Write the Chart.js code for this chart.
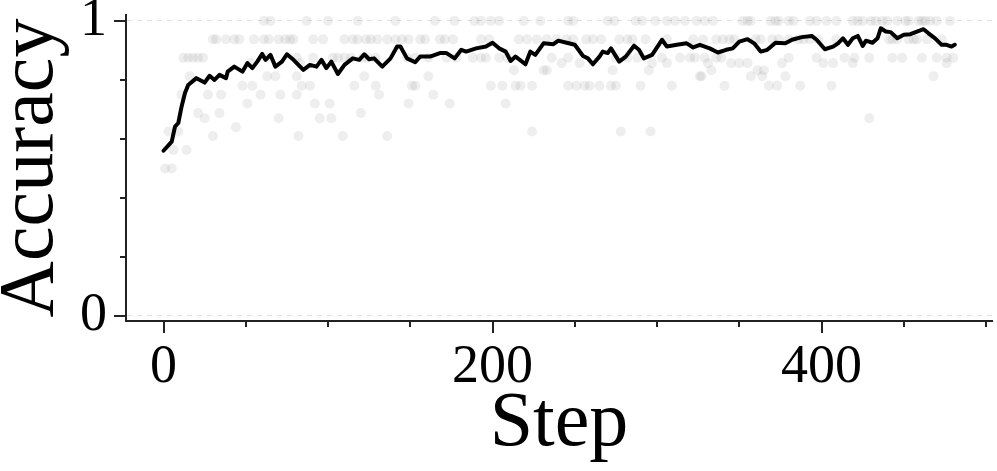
<!DOCTYPE html>
<html>
<head>
<meta charset="utf-8">
<script src="https://cdn.jsdelivr.net/npm/chart.js@4.4.1/dist/chart.umd.min.js"></script>
<style>
  html, body { margin: 0; padding: 0; background: #ffffff; }
  #wrap { width: 997px; height: 471px; }
</style>
</head>
<body>
<div id="wrap"><canvas id="accuracy-chart" width="997" height="471"></canvas></div>
<script>
// smoothed accuracy curve
const lineSteps = [0, 5, 7, 9, 11, 13, 15, 20, 25, 28, 31, 34, 38, 39, 43, 48, 51, 54, 57, 60,
  62, 65, 68, 72, 75, 79, 85, 89, 93, 96, 99, 102, 106, 110, 115, 119, 122, 125, 128, 133,
  138, 142, 144, 148, 153, 156, 162, 168, 172, 177, 181, 184, 190, 196, 200, 204, 208, 211, 214, 220,
  223, 226, 231, 237, 240, 245, 250, 255, 258, 261, 265, 267, 270, 272, 277, 281, 286, 289, 292, 297,
  303, 306, 312, 318, 322, 326, 332, 337, 342, 346, 350, 355, 359, 363, 367, 372, 378, 382, 388, 394,
  397, 402, 407, 410, 413, 416, 419, 422, 425, 427, 431, 434, 436, 439, 442, 446, 450, 454, 458, 462,
  465, 469, 473, 476, 479, 481];
const lineAcc = [0.560, 0.591, 0.642, 0.654, 0.710, 0.755, 0.783, 0.806, 0.791, 0.814, 0.800, 0.817, 0.806, 0.828, 0.845, 0.828, 0.857, 0.840, 0.862, 0.888,
  0.868, 0.885, 0.845, 0.862, 0.887, 0.868, 0.834, 0.851, 0.845, 0.868, 0.840, 0.862, 0.820, 0.851, 0.873, 0.868, 0.887, 0.870, 0.873, 0.845,
  0.873, 0.913, 0.913, 0.873, 0.860, 0.879, 0.879, 0.891, 0.891, 0.873, 0.902, 0.896, 0.907, 0.913, 0.926, 0.907, 0.896, 0.864, 0.879, 0.853,
  0.896, 0.885, 0.924, 0.921, 0.933, 0.926, 0.919, 0.881, 0.873, 0.853, 0.879, 0.896, 0.891, 0.907, 0.862, 0.879, 0.916, 0.902, 0.873, 0.885,
  0.936, 0.913, 0.919, 0.924, 0.910, 0.919, 0.907, 0.893, 0.902, 0.907, 0.930, 0.938, 0.924, 0.896, 0.902, 0.926, 0.924, 0.936, 0.945, 0.949,
  0.936, 0.904, 0.913, 0.924, 0.941, 0.919, 0.941, 0.949, 0.915, 0.933, 0.926, 0.941, 0.975, 0.964, 0.962, 0.941, 0.953, 0.955, 0.964, 0.972,
  0.958, 0.941, 0.919, 0.919, 0.913, 0.919];

// raw per-step accuracies, grouped by the level they sit on
const dotLevels = [1, 0.9375, 0.875, 0.857, 0.833, 0.8125, 0.78, 0.75, 0.72, 0.6875, 0.67, 0.64, 0.625, 0.61, 0.5625, 0.5];
const dotSteps = [
  [61, 65, 87, 100, 118, 141, 165, 177, 189, 193, 199, 204, 219, 229, 246, 249, 270, 274, 287, 291, 299, 306, 311, 317,
   324, 329, 334, 352, 355, 357, 369, 372, 374, 380, 383, 393, 397, 403, 409, 419, 422, 425, 430, 433, 437, 440, 446, 451,
   453, 459, 461, 463, 466, 470, 478],
  [30, 32, 38, 43, 46, 55, 61, 64, 70, 74, 77, 79, 91, 97, 110, 115, 118, 123, 126, 130, 136, 141, 145, 149, 156, 159, 168,
   171, 176, 193, 198, 216, 221, 227, 233, 239, 245, 249, 257, 261, 266, 277, 282, 285, 293, 306, 322, 328, 336, 340, 344,
   347, 360, 363, 370, 374, 380, 386, 389, 393, 398, 409, 441, 443, 446, 453, 456, 458, 464, 473],
  [12, 15, 18, 21, 24, 63, 81, 91, 103, 106, 110, 114, 121, 124, 129, 148, 153, 161, 172, 178, 188, 193, 196, 204, 209, 236,
   246, 275, 282, 288, 303, 314, 320, 323, 329, 336, 339, 380, 397, 414, 420, 429, 443, 449, 461, 470, 476, 480],
  [53, 83, 242, 253, 297, 306, 331, 345, 350, 355, 376, 401, 407, 419, 476],
  [213, 231, 233, 273, 295, 333, 361, 365],
  [16, 63, 68, 81, 122, 161, 326, 327, 357, 364, 378, 468],
  [48, 54, 84, 89, 116, 129, 151, 153, 199, 206, 214, 217, 224, 246, 251, 256, 259, 265, 272, 275, 290, 309, 341, 368, 373, 387, 406],
  [11, 27, 35, 59, 71, 81, 131, 164],
  [51, 92, 101, 149, 174, 208],
  [21, 34, 120],
  [25, 70, 95, 102, 429],
  [44],
  [3, 9, 224, 278, 296],
  [30, 82, 109, 136],
  [6, 14],
  [1, 5],
];

const xTicks = [0, 50, 100, 150, 200, 250, 300, 350, 400, 450, 500];
const yTicks = [0, 0.2, 0.4, 0.6, 0.8, 1];
const xMajor = [0, 200, 400];
const yMajor = [0, 1];

const SERIF = "'Liberation Serif', 'DejaVu Serif', serif";

const linePoints = lineSteps.map((s, i) => ({ x: s, y: lineAcc[i] }));
const dotPoints = dotLevels.flatMap((lvl, i) => dotSteps[i].map((s) => ({ x: s, y: lvl })));

// major ticks long, minor ticks short (Chart.js has no minor ticks)
const tickMarks = {
  id: "tickMarks",
  afterDraw(chart) {
    const { ctx, chartArea, scales } = chart;
    ctx.save();
    ctx.strokeStyle = "#222";
    ctx.lineWidth = 2;
    xTicks.forEach((v) => {
      const x = Math.round(scales.x.getPixelForValue(v));
      const len = xMajor.includes(v) ? 12 : 6;
      ctx.beginPath();
      ctx.moveTo(x, chartArea.bottom);
      ctx.lineTo(x, chartArea.bottom + len);
      ctx.stroke();
    });
    yTicks.forEach((v) => {
      const y = Math.round(scales.y.getPixelForValue(v));
      const len = yMajor.includes(v) ? 12 : 6;
      ctx.beginPath();
      ctx.moveTo(chartArea.left, y);
      ctx.lineTo(chartArea.left - len, y);
      ctx.stroke();
    });
    ctx.restore();
  },
};

const config = {
  type: "scatter",
  data: {
    datasets: [
      {
        type: "line",
        data: linePoints,
        borderColor: "#000000",
        borderWidth: 4,
        borderJoinStyle: "round",
        borderCapStyle: "round",
        pointRadius: 0,
        tension: 0,
        fill: false,
      },
      {
        type: "scatter",
        data: dotPoints,
        backgroundColor: "rgba(120, 120, 120, 0.13)",
        borderWidth: 0,
        pointRadius: 5,
      },
    ],
  },
  plugins: [tickMarks],
  options: {
    responsive: false,
    devicePixelRatio: 1,
    animation: false,
    layout: { padding: { top: 15, right: 4, left: 0, bottom: 0 } },
    plugins: {
      legend: { display: false },
      tooltip: { enabled: false },
    },
    scales: {
      x: {
        type: "linear",
        min: -22.8,
        max: 503.6,
        afterBuildTicks: (scale) => {
          scale.ticks = xTicks.map((v) => ({ value: v }));
        },
        afterFit: (scale) => {
          scale.height = 150;
          scale.paddingLeft = 0;
          scale.paddingRight = 0;
        },
        ticks: {
          autoSkip: false,
          maxRotation: 0,
          padding: 2,
          color: "#000",
          font: { family: SERIF, size: 54 },
          callback: (v) => (xMajor.includes(v) ? String(v) : ""),
        },
        grid: {
          drawOnChartArea: false,
          drawTicks: true,
          tickLength: 12,
          tickColor: "rgba(0,0,0,0)",
        },
        border: { color: "#222", width: 2 },
        title: {
          display: true,
          text: "Step",
          color: "#000",
          font: { family: SERIF, size: 78 },
          padding: { top: 0, bottom: 0 },
        },
      },
      y: {
        type: "linear",
        min: -0.017,
        max: 1.02,
        afterBuildTicks: (scale) => {
          scale.ticks = yTicks.map((v) => ({ value: v }));
        },
        afterFit: (scale) => {
          scale.width = 126;
          scale.paddingTop = 0;
          scale.paddingBottom = 0;
        },
        ticks: {
          autoSkip: false,
          padding: 7,
          color: "#000",
          font: { family: SERIF, size: 54 },
          callback: (v) => (yMajor.includes(v) ? String(v) : ""),
        },
        grid: {
          drawTicks: true,
          tickLength: 12,
          tickColor: "rgba(0,0,0,0)",
          lineWidth: 1,
          color: (ctx) =>
            ctx.tick && yMajor.includes(ctx.tick.value) ? "#e2e2e2" : "rgba(0,0,0,0)",
        },
        border: { color: "#222", width: 2, dash: [5, 5] },
        title: {
          display: true,
          text: "Accuracy",
          color: "#000",
          font: { family: SERIF, size: 78, lineHeight: 0.8 },
          padding: { top: 0, bottom: 0 },
        },
      },
    },
  },
};

new Chart(document.getElementById("accuracy-chart"), config);
</script>
</body>
</html>
